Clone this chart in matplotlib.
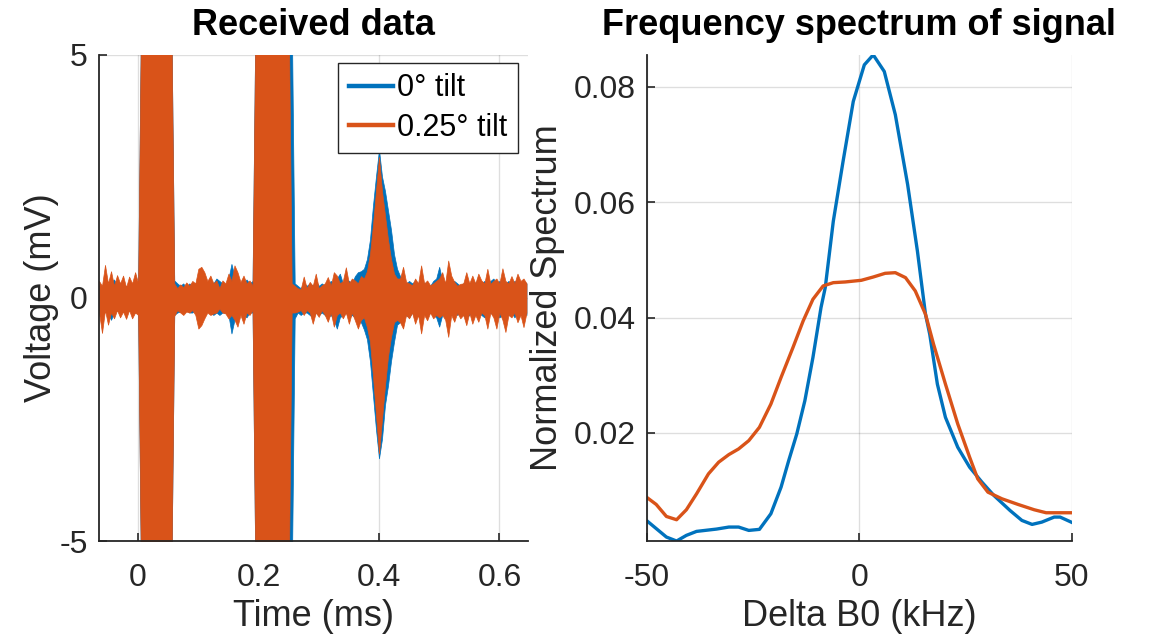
# Received data (time domain) and its frequency spectrum, two tilt angles
import numpy as np
import matplotlib.pyplot as plt

plt.rcParams['font.family'] = ['Liberation Sans', 'DejaVu Sans']

# ---- time-domain envelopes, sampled every 0.005 ms from -0.065 to 0.645 ms
t_ms = np.round(np.arange(-0.065, 0.6451, 0.005), 3)

# 0.25 deg tilt (upper / lower envelope, mV)
orange_hi = [0.35, 0.25, 0.68, 0.3, 0.55, 0.25, 0.47, 0.3, 0.46, 0.22, 0.44, 0.3, 0.53, 0.3,
             6, 6, 6, 6, 6, 6, 6, 6, 6, 6, 6,
             0.3, 0.2, 0.28, 0.22, 0.32, 0.25, 0.35, 0.3, 0.6, 0.64, 0.53, 0.35, 0.46, 0.3,
             0.36, 0.2, 0.36, 0.3, 0.5, 0.35, 0.67, 0.53, 0.33, 0.46, 0.3, 0.36, 0.25,
             6, 6, 6, 6, 6, 6, 6, 6, 6, 6, 6, 6, 0.3,
             0.25, 0.2, 0.18, 0.44, 0.2, 0.33, 0.25, 0.5, 0.2, 0.26, 0.3, 0.43, 0.25, 0.53,
             0.46, 0.3, 0.35, 0.63, 0.3, 0.4, 0.36, 0.3,
             0.45, 0.4, 0.55, 0.9, 1.5, 2.2, 2.9, 2.2, 1.7, 1.2, 0.8, 0.5, 0.4,
             0.4, 0.64, 0.33, 0.3, 0.26, 0.4, 0.3, 0.67, 0.3, 0.36, 0.26, 0.3, 0.35, 0.4, 0.53,
             0.3, 0.77, 0.46, 0.33, 0.25, 0.29, 0.3, 0.53, 0.3, 0.46, 0.3, 0.5, 0.36, 0.3, 0.6,
             0.29, 0.35, 0.4, 0.3, 0.61, 0.35, 0.3, 0.45, 0.3, 0.5, 0.35, 0.4, 0.3]
orange_lo = [-0.3, -0.72, -0.25, -0.55, -0.3, -0.42, -0.25, -0.4, -0.28, -0.43, -0.25, -0.42, -0.3, -0.35,
             -6, -6, -6, -6, -6, -6, -6, -6, -6, -6, -6,
             -0.37, -0.25, -0.3, -0.35, -0.28, -0.3, -0.25, -0.35, -0.63, -0.56, -0.42, -0.3, -0.35,
             -0.32, -0.3, -0.22, -0.3, -0.32, -0.42, -0.35, -0.45, -0.59, -0.35, -0.53, -0.3, -0.35, -0.25,
             -6, -6, -6, -6, -6, -6, -6, -6, -6, -6, -6, -6, -0.3,
             -0.3, -0.28, -0.25, -0.35, -0.25, -0.3, -0.53, -0.3, -0.39, -0.25, -0.35, -0.49, -0.3,
             -0.59, -0.35, -0.3, -0.42, -0.3, -0.53, -0.3, -0.46, -0.63,
             -0.45, -0.4, -0.6, -0.9, -1.6, -2.4, -3.2, -2.5, -1.8, -1.2, -0.8, -0.5, -0.45,
             -0.5, -0.63, -0.35, -0.42, -0.3, -0.53, -0.35, -0.73, -0.35, -0.46, -0.3, -0.42, -0.35,
             -0.4, -0.35, -0.45, -0.8, -0.35, -0.49, -0.3, -0.42, -0.35, -0.56, -0.3, -0.53, -0.35,
             -0.49, -0.3, -0.35, -0.63, -0.3, -0.4, -0.63, -0.3, -0.45, -0.7, -0.35, -0.4, -0.3,
             -0.5, -0.35, -0.6, -0.3]

# 0 deg tilt
blue_hi = [0.25, 0.2, 0.3, 0.25, 0.33, 0.38, 0.25, 0.3, 0.2, 0.25, 0.2, 0.25, 0.3, 0.3,
           6, 6, 6, 6, 6, 6, 6, 6, 6, 6, 6,
           0.36, 0.3, 0.25, 0.3, 0.2, 0.3, 0.25, 0.3, 0.35, 0.4, 0.3, 0.25, 0.35, 0.3, 0.4,
           0.35, 0.3, 0.25, 0.4, 0.7, 0.45, 0.3, 0.25, 0.3, 0.38, 0.3, 0.35,
           6, 6, 6, 6, 6, 6, 6, 6, 6, 6, 6, 6, 6,
           0.3, 0.25, 0.2, 0.3, 0.25, 0.3, 0.25, 0.35, 0.25, 0.3, 0.25, 0.3, 0.35, 0.3, 0.4,
           0.5, 0.3, 0.4, 0.35, 0.3, 0.45, 0.53,
           0.55, 0.6, 0.8, 1.2, 1.9, 2.5, 3.05, 2.5, 2.2, 1.8, 1.4, 0.9, 0.6,
           0.45, 0.4, 0.3, 0.35, 0.3, 0.35, 0.3, 0.4, 0.3, 0.3, 0.25, 0.35, 0.4, 0.64, 0.35,
           0.3, 0.4, 0.3, 0.35, 0.3, 0.25, 0.3, 0.35, 0.3, 0.35, 0.3, 0.4, 0.3, 0.35, 0.3,
           0.35, 0.4, 0.3, 0.35, 0.3, 0.3, 0.35, 0.3, 0.35, 0.3, 0.3, 0.35, 0.3]
blue_lo = [-0.25, -0.3, -0.2, -0.3, -0.45, -0.3, -0.25, -0.3, -0.2, -0.3, -0.25, -0.3, -0.3, -0.3,
           -6, -6, -6, -6, -6, -6, -6, -6, -6, -6, -6,
           -0.35, -0.3, -0.28, -0.3, -0.25, -0.3, -0.3, -0.25, -0.4, -0.35, -0.3, -0.28, -0.3,
           -0.35, -0.3, -0.35, -0.3, -0.3, -0.35, -0.73, -0.45, -0.3, -0.3, -0.35, -0.4, -0.3, -0.3,
           -6, -6, -6, -6, -6, -6, -6, -6, -6, -6, -6, -6, -6,
           -0.42, -0.3, -0.35, -0.3, -0.3, -0.35, -0.4, -0.3, -0.35, -0.3, -0.35, -0.4, -0.35,
           -0.45, -0.63, -0.4, -0.35, -0.3, -0.4, -0.35, -0.4, -0.5,
           -0.5, -0.65, -0.85, -1.3, -2.0, -2.7, -3.3, -2.9, -2.2, -1.8, -1.3, -0.9, -0.55,
           -0.5, -0.45, -0.35, -0.4, -0.3, -0.4, -0.35, -0.45, -0.3, -0.35, -0.3, -0.35, -0.4,
           -0.59, -0.35, -0.3, -0.4, -0.35, -0.3, -0.35, -0.3, -0.35, -0.4, -0.35, -0.3, -0.35,
           -0.3, -0.35, -0.4, -0.35, -0.3, -0.35, -0.3, -0.4, -0.35, -0.3, -0.35, -0.3, -0.4,
           -0.3, -0.35, -0.3, -0.35]

# ---- frequency spectrum (kHz, normalized)
f_blue = [-50.1, -45.4, -43.0, -40.7, -38.3, -33.6, -30.7, -28.4, -26.0, -23.5, -20.8,
          -18.4, -16.6, -14.7, -12.8, -10.9, -9.0, -8.0, -6.1, -3.8, -1.4, 1.2, 3.3, 5.9,
          8.5, 11.4, 13.7, 15.6, 16.6, 18.4, 20.3, 23.2, 26.0, 28.9, 31.7, 35.5, 38.3, 40.7,
          43.0, 45.9, 47.3, 49.9]
s_blue = [0.00484, 0.00196, 0.00127, 0.00225, 0.00294, 0.00334, 0.00369, 0.00369, 0.00311,
          0.00329, 0.00600, 0.01061, 0.01522, 0.01983, 0.02559, 0.03308, 0.04173, 0.04519,
          0.05671, 0.06709, 0.07746, 0.08380, 0.08553, 0.08265, 0.07516, 0.06305, 0.05153,
          0.04058, 0.03712, 0.02847, 0.02271, 0.01752, 0.01406, 0.01147, 0.00917, 0.00657,
          0.00484, 0.00415, 0.00455, 0.00542, 0.00542, 0.00455]
f_orange = [-50.1, -47.8, -45.4, -43.0, -40.7, -38.3, -35.5, -33.1, -30.7, -28.4, -26.0,
            -23.5, -20.8, -18.4, -15.6, -13.2, -10.9, -8.5, -6.1, -3.3, 0.5, 3.3, 6.1, 8.5,
            10.9, 13.2, 15.6, 17.5, 20.3, 23.2, 26.0, 27.9, 30.3, 33.6, 37.4, 41.2, 44.0,
            46.8, 49.9]
s_orange = [0.00888, 0.00761, 0.00553, 0.00496, 0.00669, 0.00945, 0.01291, 0.01493, 0.01625,
            0.01723, 0.01867, 0.02098, 0.02501, 0.02963, 0.03481, 0.03942, 0.04317, 0.04548,
            0.04605, 0.04617, 0.04646, 0.04703, 0.04767, 0.04778, 0.04692, 0.04461, 0.04058,
            0.03539, 0.02847, 0.02156, 0.01579, 0.01205, 0.00974, 0.00859, 0.00761, 0.00669,
            0.00617, 0.00617, 0.00617]

c_blue = '#0072BD'
c_orange = '#D95319'
axcol = '#262626'


def style_axes(ax):
    """MATLAB-like look: box off, grid on, ticks pointing in"""
    for side in ['top', 'right']:
        ax.spines[side].set_visible(False)
    for side in ['left', 'bottom']:
        ax.spines[side].set_color(axcol)
        ax.spines[side].set_linewidth(1.3)
    ax.tick_params(direction='in', length=6, width=1.2, colors=axcol,
                   labelsize=23, labelcolor=axcol)
    ax.tick_params(axis='x', pad=16)
    ax.tick_params(axis='y', pad=8)
    ax.grid(True, color=axcol, alpha=0.15, linewidth=1.0)
    ax.set_axisbelow(True)


fig = plt.figure(figsize=(11.51, 6.38), dpi=100)

# Received data
ax1 = fig.add_axes([0.086, 0.152, 0.373, 0.762])
ax1.fill_between(t_ms, blue_lo, blue_hi, color=c_blue, lw=0.5)
ax1.fill_between(t_ms, orange_lo, orange_hi, color=c_orange, lw=0.5)
ax1.plot([], [], color=c_blue, lw=3.2, label='0° tilt')
ax1.plot([], [], color=c_orange, lw=3.2, label='0.25° tilt')
ax1.set_xlim(-0.065, 0.648)
ax1.set_ylim(-5, 5)
ax1.set_xticks([0, 0.2, 0.4, 0.6])
ax1.set_xticklabels(['0', '0.2', '0.4', '0.6'])
ax1.set_yticks([-5, 0, 5])
ax1.set_yticklabels(['-5', '0', '5'])
style_axes(ax1)
ax1.set_xlabel('Time (ms)', fontsize=26, color=axcol, labelpad=4)
ax1.set_ylabel('Voltage (mV)', fontsize=26, color=axcol, labelpad=0)
ax1.set_title('Received data', fontsize=26, fontweight='bold', pad=14)
leg = ax1.legend(loc='upper right', bbox_to_anchor=(0.977, 0.984), borderaxespad=0,
                 fontsize=22, handlelength=1.45, handletextpad=0.15, labelspacing=0.3,
                 borderpad=0.35, fancybox=False, framealpha=1, edgecolor='#262626')
leg.get_frame().set_linewidth(1.0)

# Frequency spectrum
ax2 = fig.add_axes([0.562, 0.152, 0.369, 0.762])
ax2.plot(f_blue, s_blue, color=c_blue, lw=2.4)
ax2.plot(f_orange, s_orange, color=c_orange, lw=2.4)
ax2.set_xlim(-50, 50)
ax2.set_ylim(min(s_blue), max(s_blue))
ax2.set_xticks([-50, 0, 50])
ax2.set_xticklabels(['-50', '0', '50'])
ax2.set_yticks([0.02, 0.04, 0.06, 0.08])
ax2.set_yticklabels(['0.02', '0.04', '0.06', '0.08'])
style_axes(ax2)
ax2.set_xlabel('Delta B0 (kHz)', fontsize=26, color=axcol, labelpad=4)
ax2.set_ylabel('Normalized Spectrum', fontsize=26, color=axcol, labelpad=6)
ax2.set_title('Frequency spectrum of signal', fontsize=26, fontweight='bold', pad=14)

fig.savefig('out.png', dpi=100)
